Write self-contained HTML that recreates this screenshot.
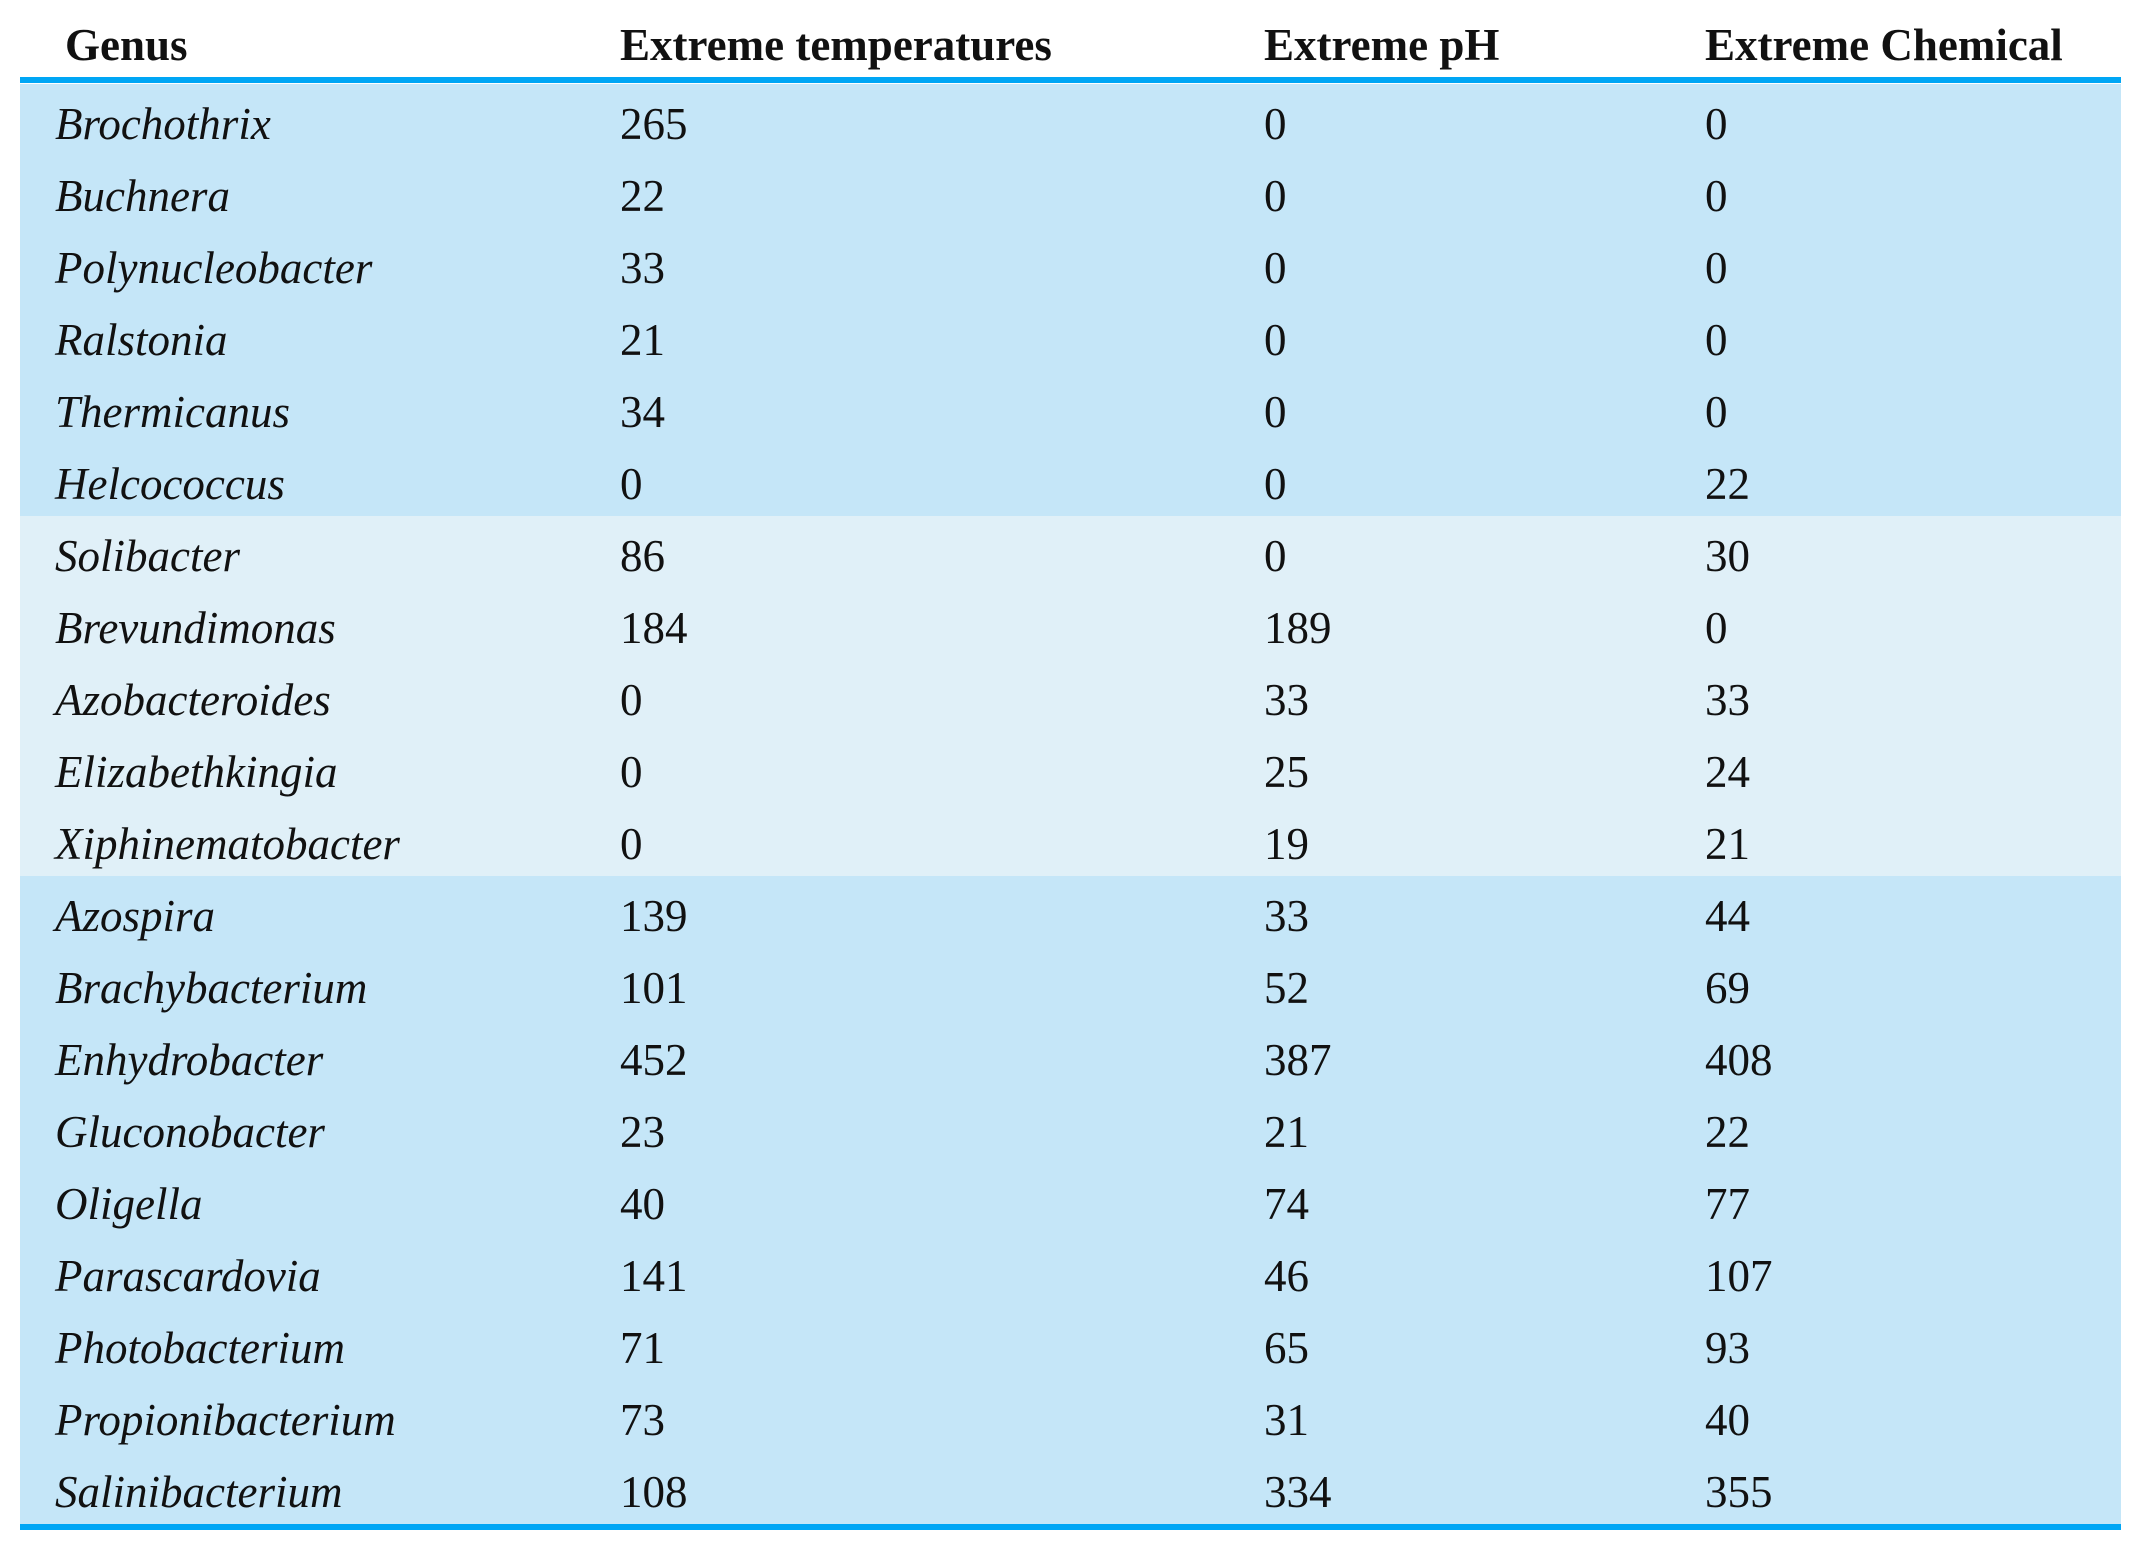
<!DOCTYPE html>
<html><head><meta charset="utf-8"><style>
body{margin:0;width:2136px;height:1550px;background:#fff;position:relative;font-family:"Liberation Serif",serif;color:#111;overflow:hidden}
.h{position:absolute;top:17px;font-weight:bold;font-size:45px;line-height:56px}
.rule{position:absolute;left:20px;width:2101px;height:6px;background:#00a6f5}
.row{position:absolute;left:20px;width:2101px;height:72px;font-size:45px;line-height:72px}
.row span{position:absolute;top:4px}
.c0{left:35px;font-style:italic}.c1{left:600px}.c2{left:1244px}.c3{left:1685px}
</style></head><body>
<div class="h" style="left:65px">Genus</div>
<div class="h" style="left:620px">Extreme temperatures</div>
<div class="h" style="left:1264px">Extreme pH</div>
<div class="h" style="left:1705px">Extreme Chemical</div>
<div class="rule" style="top:77px"></div>
<div id="body"></div>
<div class="rule" style="top:1524px"></div>
<script>
const genera=["Brochothrix","Buchnera","Polynucleobacter","Ralstonia","Thermicanus","Helcococcus","Solibacter","Brevundimonas","Azobacteroides","Elizabethkingia","Xiphinematobacter","Azospira","Brachybacterium","Enhydrobacter","Gluconobacter","Oligella","Parascardovia","Photobacterium","Propionibacterium","Salinibacterium"];
const temps=[265,22,33,21,34,0,86,184,0,0,0,139,101,452,23,40,141,71,73,108];
const ph=[0,0,0,0,0,0,0,189,33,25,19,33,52,387,21,74,46,65,31,334];
const chem=[0,0,0,0,0,22,30,0,33,24,21,44,69,408,22,77,107,93,40,355];
const b=document.getElementById('body');
genera.forEach((g,i)=>{
 const r=document.createElement('div');
 r.className='row';
 
 
 r.style.top=(84+i*72)+'px';
 r.style.background=(i>=6&&i<=10)?'#e0f0f8':'#c5e6f8';
 [g,temps[i],ph[i],chem[i]].forEach((v,j)=>{
  const s=document.createElement('span');
  s.className='c'+j;
  
  
  s.textContent=v;
  r.appendChild(s);
 });
 b.appendChild(r);
});
</script>
</body></html>
